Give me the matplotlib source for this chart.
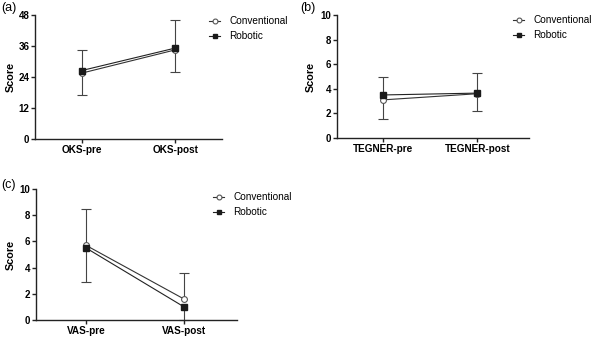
import matplotlib
matplotlib.use("Agg")
import matplotlib.pyplot as plt
from matplotlib.lines import Line2D
import numpy as np

plt.rcParams['font.family'] = ['Liberation Sans', 'DejaVu Sans']

# ---- data ----
series_names = ["Conventional", "Robotic"]

oks_cats = ["OKS-pre", "OKS-post"]
oks_conv = [25.5, 34.5]
oks_conv_err_up = [9.0, 11.5]
oks_rob = [26.5, 35.2]
oks_rob_err_down = [9.5, 9.2]

teg_cats = ["TEGNER-pre", "TEGNER-post"]
teg_conv = [3.1, 3.6]
teg_conv_err_up = [1.85, 1.65]
teg_rob = [3.5, 3.65]
teg_rob_err_down = [1.97, 1.45]

vas_cats = ["VAS-pre", "VAS-post"]
vas_conv = [5.7, 1.6]
vas_conv_err_up = [2.8, 2.0]
vas_rob = [5.5, 1.0]
vas_rob_err_down = [2.6, 1.0]

W, H = 597, 341
fig = plt.figure(figsize=(W/100, H/100), dpi=100)

def ax_at(l, r, b, t):
    return fig.add_axes([l/W, (H-b)/H, (r-l)/W, (b-t)/H])

def panel(ax, cats, conv, conv_up, rob, rob_down, ylim, yticks, xlim, label, lab_xy, leg_xy, ylab_x):
    x = np.arange(len(cats))
    conv = np.array(conv); rob = np.array(rob)
    top = conv + np.array(conv_up)
    bot = rob - np.array(rob_down)
    ecol = '#444444'
    ax.vlines(x, conv, top, color=ecol, lw=0.8, zorder=1)
    ax.vlines(x, bot, rob, color=ecol, lw=0.8, zorder=1)
    ax.plot(x, top, ls='none', marker='_', ms=7, mew=0.8, color=ecol, zorder=1)
    ax.plot(x, bot, ls='none', marker='_', ms=7, mew=0.8, color=ecol, zorder=1, clip_on=False)
    ax.plot(x, conv, '-', color='#333333', lw=0.8, marker='o', ms=4.2,
            mfc='white', mec='#555555', mew=0.8, zorder=3, clip_on=False)
    ax.plot(x, rob, '-', color='#222222', lw=0.8, marker='s', ms=4.2,
            mfc='#1a1a1a', mec='#1a1a1a', zorder=4, clip_on=False)
    ax.set_ylim(*ylim)
    ax.set_yticks(yticks)
    ax.set_xlim(*xlim)
    ax.set_xticks(x)
    ax.set_xticklabels(cats, fontsize=7.2, fontweight='bold')
    for t in ax.get_yticklabels():
        t.set_fontsize(7.0)
        t.set_fontweight('bold')
    ax.set_ylabel("Score", fontsize=7.8, fontweight='bold')
    ax.yaxis.set_label_coords(ylab_x, 0.5)
    for s in ['top', 'right']:
        ax.spines[s].set_visible(False)
    for s in ['left', 'bottom']:
        ax.spines[s].set_linewidth(1.0)
        ax.spines[s].set_color('#222222')
    ax.tick_params(axis='both', direction='out', length=3, width=1.0, color='#222222', pad=1)
    fig.text(lab_xy[0]/W, (H-lab_xy[1])/H, label, fontsize=9, ha='left', va='center')
    handles = [
        Line2D([], [], color='#333333', lw=0.8, marker='o', ms=3.5, mfc='white', mec='#555555', mew=0.8),
        Line2D([], [], color='#222222', lw=0.8, marker='s', ms=3.5, mfc='#1a1a1a', mec='#1a1a1a'),
    ]
    ax.legend(handles, series_names, loc='upper left', bbox_to_anchor=(leg_xy[0]/W, (H-leg_xy[1])/H),
              bbox_transform=fig.transFigure, frameon=False, fontsize=7.2,
              handlelength=1.1, handletextpad=0.9, labelspacing=0.5, borderpad=0, borderaxespad=0)

axa = ax_at(35, 222, 139, 15)
panel(axa, oks_cats, oks_conv, oks_conv_err_up, oks_rob, oks_rob_err_down,
      (0, 48), [0, 12, 24, 36, 48], (-0.5, 1.5), "(a)", (1, 8), (209, 16), -0.101)

axb = ax_at(337, 529, 138, 15)
panel(axb, teg_cats, teg_conv, teg_conv_err_up, teg_rob, teg_rob_err_down,
      (0, 10), [0, 2, 4, 6, 8, 10], (-0.49, 1.55), "(b)", (300, 8), (513, 15), -0.112)

axc = ax_at(36, 237, 320, 189)
panel(axc, vas_cats, vas_conv, vas_conv_err_up, vas_rob, vas_rob_err_down,
      (0, 10), [0, 2, 4, 6, 8, 10], (-0.51, 1.54), "(c)", (1, 185), (213, 192), -0.0995)

fig.savefig("out.png", dpi=100)
